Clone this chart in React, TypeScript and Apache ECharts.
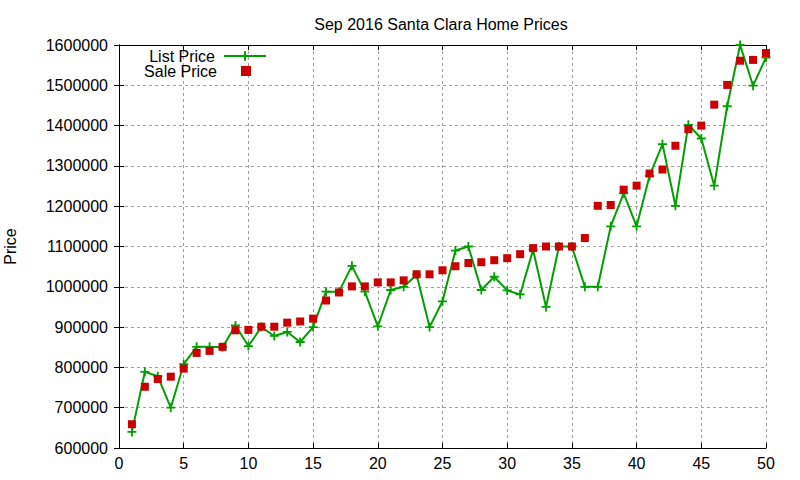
import React, { useEffect, useRef } from 'react';
import * as echarts from 'echarts';

// listing index 1..50
const listPrice = [
  640000, 789000, 778000, 700000, 808000, 851000, 851000, 850000, 904000, 853000,
  900000, 878000, 888000, 863000, 900000, 988000, 988000, 1052000, 988000, 902000,
  992000, 1000000, 1030000, 900000, 964000, 1090000, 1100000, 992000, 1025000, 991000,
  981000, 1092000, 950000, 1100000, 1100000, 1000000, 1000000, 1150000, 1232000, 1150000,
  1275000, 1354000, 1201000, 1402000, 1368000, 1251000, 1448000, 1600000, 1499000, 1569000,
];
const salePrice = [
  659000, 752000, 771000, 777000, 797000, 836000, 841000, 851000, 892000, 893000,
  901000, 901000, 911000, 914000, 921000, 966000, 986000, 1001000, 1001000, 1011000,
  1011000, 1016000, 1031000, 1031000, 1041000, 1051000, 1059000, 1061000, 1066000, 1071000,
  1081000, 1096000, 1100000, 1100000, 1100000, 1121000, 1201000, 1203000, 1241000, 1251000,
  1281000, 1291000, 1350000, 1391000, 1400000, 1452000, 1501000, 1561000, 1563000, 1580000,
];

const FONT = '"Liberation Sans", Arial, sans-serif';
const PLUS = 'path://M4,0H6V4H10V6H6V10H4V6H0V4H4Z';

const App = () => {
  const chartRef = useRef<HTMLDivElement>(null);

  useEffect(() => {
    if (!chartRef.current) return;
    const myChart = echarts.init(chartRef.current, null, { renderer: 'svg' });

    const gridLine = { show: true, lineStyle: { color: '#a0a0a0', type: [3, 3] as any, width: 1 } };
    const axisLine = { show: true, lineStyle: { color: '#000', width: 1 } };
    const tick = { show: true, inside: true, length: 5, lineStyle: { color: '#000' } };

    const option: any = {
      animation: false,
      backgroundColor: '#fff',
      textStyle: { fontFamily: FONT },
      title: {
        text: 'Sep 2016 Santa Clara Home Prices',
        left: 436,
        top: 11,
        textAlign: 'center',
        textStyle: { fontFamily: FONT, fontSize: 16, fontWeight: 'normal', color: '#000' },
      },
      legend: [
        {
          data: ['List Price'],
          orient: 'vertical',
          right: 533,
          top: 48,
          padding: 0,
          align: 'right',
          itemWidth: 42,
          itemHeight: 12,
          selectedMode: false,
          textStyle: { fontFamily: FONT, fontSize: 16, color: '#000', lineHeight: 15, padding: [0, 4, 0, 0] },
        },
        {
          data: ['Sale Price'],
          orient: 'vertical',
          right: 549,
          top: 63,
          padding: 0,
          align: 'right',
          itemWidth: 10,
          itemHeight: 10,
          selectedMode: false,
          textStyle: { fontFamily: FONT, fontSize: 16, color: '#000', lineHeight: 15, padding: [0, 19, 0, 0] },
        },
      ],
      grid: { left: 119, right: 34, top: 45, bottom: 32, outerBoundsMode: 'none' },
      xAxis: [
        {
          type: 'value',
          min: 0,
          max: 50,
          interval: 5,
          axisLine,
          axisTick: tick,
          splitLine: gridLine,
          axisLabel: { fontFamily: FONT, fontSize: 16, color: '#000', margin: 7 },
        },
        {
          type: 'value',
          position: 'top',
          min: 0,
          max: 50,
          interval: 5,
          axisLine,
          axisTick: tick,
          splitLine: { show: false },
          axisLabel: { show: false },
        },
      ],
      yAxis: [
        {
          type: 'value',
          min: 600000,
          max: 1600000,
          interval: 100000,
          name: 'Price',
          nameLocation: 'middle',
          nameGap: 101,
          nameTextStyle: { fontFamily: FONT, fontSize: 16, color: '#000' },
          axisLine,
          axisTick: tick,
          splitLine: gridLine,
          axisLabel: {
            fontFamily: FONT,
            fontSize: 16,
            color: '#000',
            margin: 11,
            formatter: (v: number) => String(v),
          },
        },
        {
          type: 'value',
          position: 'right',
          min: 600000,
          max: 1600000,
          interval: 100000,
          axisLine,
          axisTick: tick,
          splitLine: { show: false },
          axisLabel: { show: false },
        },
      ],
      series: [
        {
          name: 'List Price',
          type: 'line',
          data: listPrice.map((v, i) => [i + 1, v]),
          symbol: PLUS,
          symbolSize: 9,
          color: '#00a000',
          itemStyle: { color: '#00a000', opacity: 1 },
          lineStyle: { color: '#00a000', width: 2 },
          z: 2,
        },
        {
          name: 'Sale Price',
          type: 'scatter',
          data: salePrice.map((v, i) => [i + 1, v]),
          symbol: 'rect',
          symbolSize: 8,
          color: '#cc0000',
          itemStyle: { color: '#cc0000', opacity: 1 },
          z: 3,
        },
      ],
    };

    myChart.setOption(option);

    return () => {
      myChart.dispose();
    };
  }, []);

  return (
    <div
      ref={chartRef}
      style={{ position: 'absolute', left: 0, top: 0, width: '800px', height: '480px' }}
    ></div>
  );
};

export default App;
